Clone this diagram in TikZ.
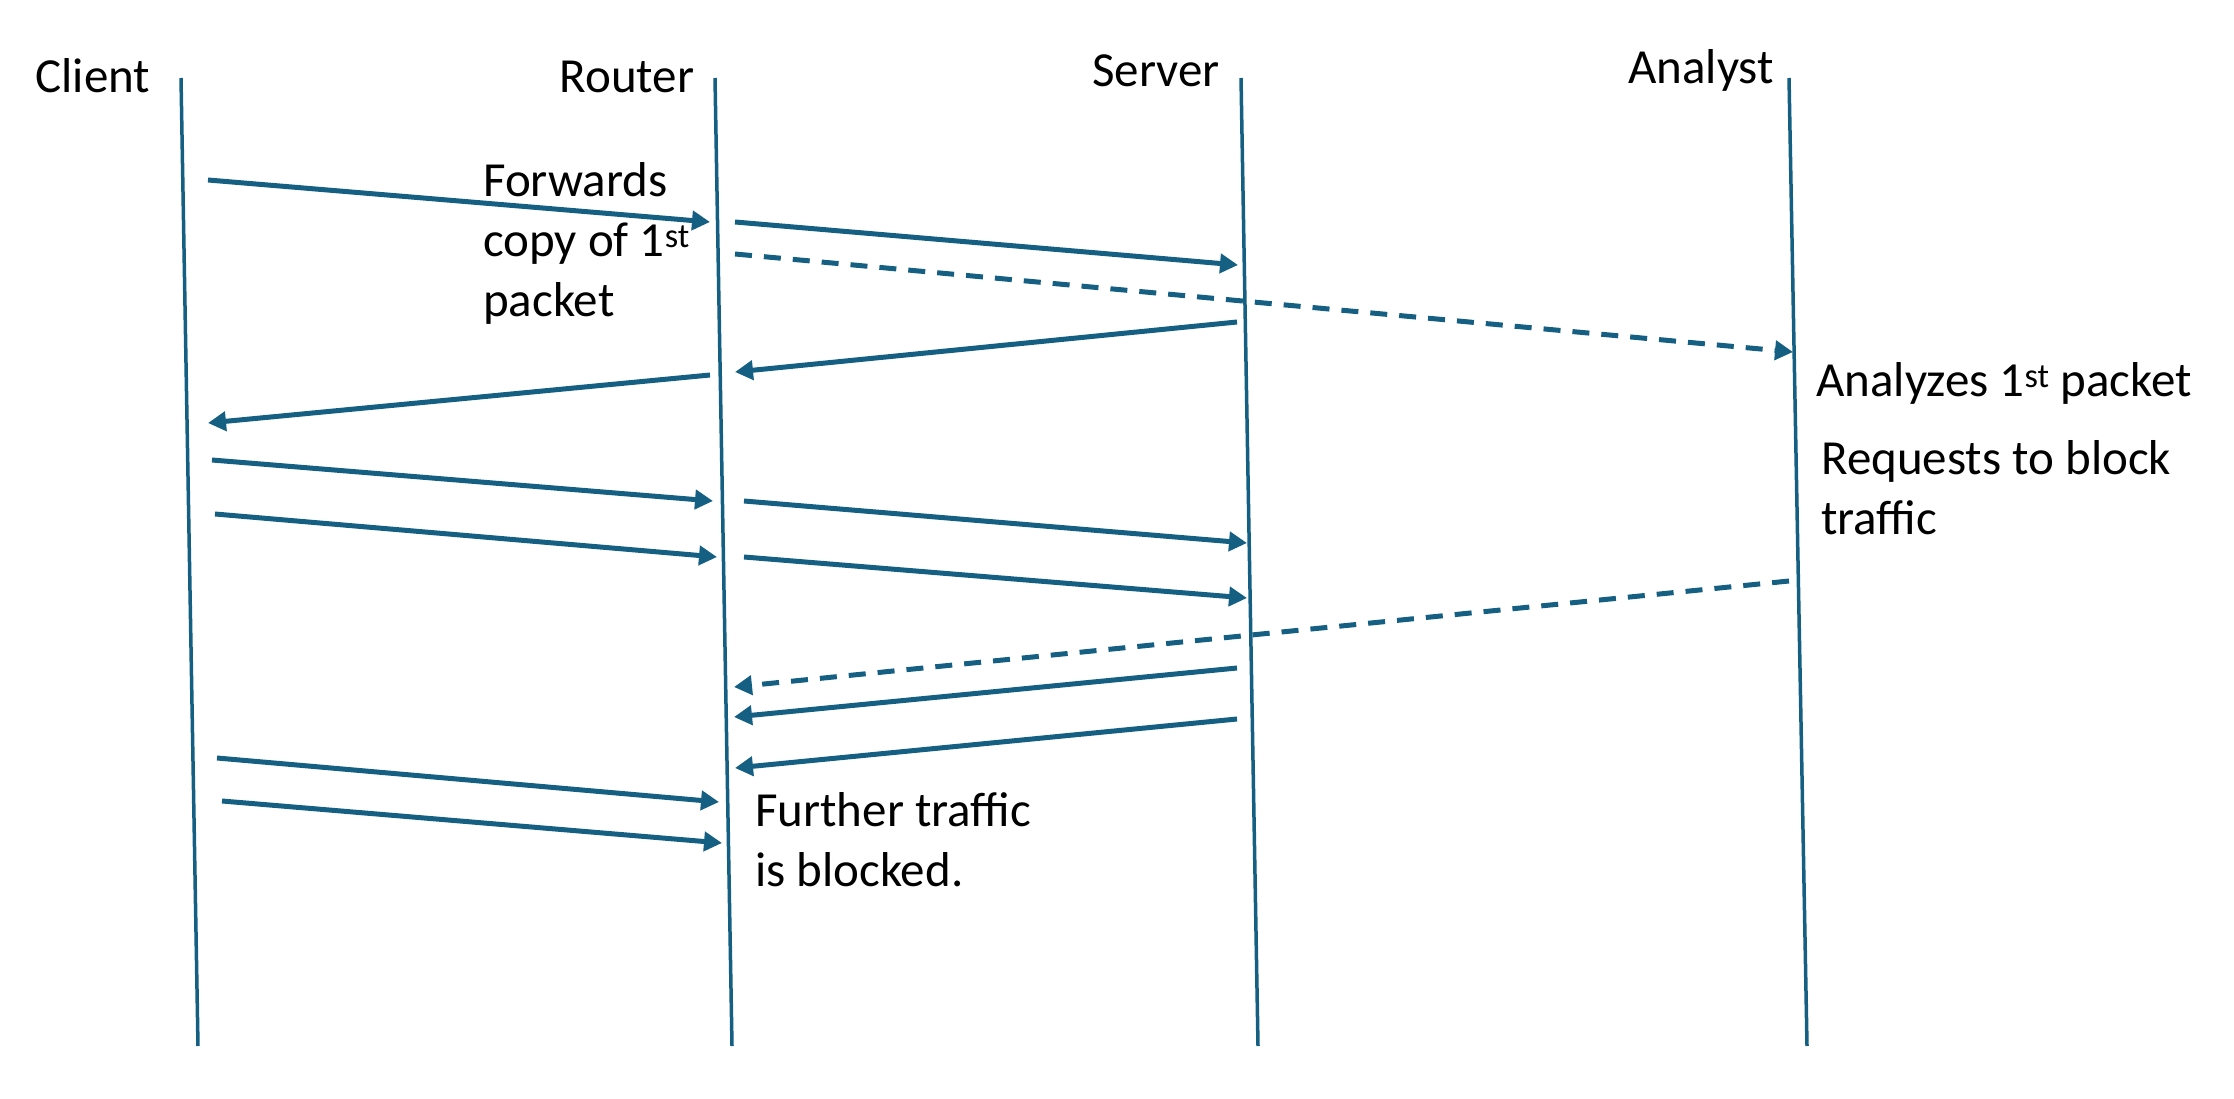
\documentclass[tikz,border=0pt]{standalone}
\usepackage{fontspec}
\setmainfont{Carlito}
\usetikzlibrary{arrows.meta}
\definecolor{seqblue}{HTML}{156082}
\begin{document}
\begin{tikzpicture}[x=1pt,y=-1pt,
  lifeline/.style={draw=seqblue,line width=3.5pt},
  msg/.style={draw=seqblue,line width=5pt,-{Triangle[length=18pt,width=19pt]}},
  dmsg/.style={msg,dash pattern=on 17pt off 12pt},
  lbl/.style={inner sep=0pt,font=\fontsize{49}{60}\selectfont},
  note/.style={lbl,align=left,anchor=north west}]
\useasboundingbox (0,0) rectangle (2234,1099);
% lifelines
\coordinate (c1) at (181,78);  \coordinate (c2) at (198,1046);
\coordinate (r1) at (715,78);  \coordinate (r2) at (732,1046);
\coordinate (s1) at (1241,78); \coordinate (s2) at (1258,1046);
\coordinate (a1) at (1789,78); \coordinate (a2) at (1807,1046);
\draw[lifeline] (c1) -- (c2);
\draw[lifeline] (r1) -- (r2);
\draw[lifeline] (s1) -- (s2);
\draw[lifeline] (a1) -- (a2);
% headers
\node[lbl,anchor=base] (hc) at (93,93) {Client};
\node[lbl,anchor=base] (hr) at (627,93) {Router};
\node[lbl,anchor=base] (hs) at (1156,87) {Server};
\node[lbl,anchor=base] (ha) at (1701,84) {Analyst};
% message end points
\coordinate (m1a) at (208,180);  \coordinate (m1b) at (710,222);
\coordinate (m2a) at (735,222);  \coordinate (m2b) at (1238,265);
\coordinate (m3a) at (735,254);  \coordinate (m3b) at (1793,352);
\coordinate (m4a) at (1237,322); \coordinate (m4b) at (735,372);
\coordinate (m5a) at (710,375);  \coordinate (m5b) at (208,423);
\coordinate (m6a) at (212,460);  \coordinate (m6b) at (713,501);
\coordinate (m7a) at (744,501);  \coordinate (m7b) at (1247,543);
\coordinate (m8a) at (215,514);  \coordinate (m8b) at (717,557);
\coordinate (m9a) at (744,557);  \coordinate (m9b) at (1247,598);
\coordinate (m10a) at (1789,581); \coordinate (m10b) at (734,687);
\coordinate (m11a) at (1237,668); \coordinate (m11b) at (734,717);
\coordinate (m12a) at (1237,719); \coordinate (m12b) at (735,768);
\coordinate (m13a) at (217,758); \coordinate (m13b) at (719,802);
\coordinate (m14a) at (222,801); \coordinate (m14b) at (722,843);
\draw[msg] (m1a) -- (m1b);
\draw[msg] (m2a) -- (m2b);
\draw[dmsg] (m3a) -- (m3b);
\draw[msg] (m4a) -- (m4b);
\draw[msg] (m5a) -- (m5b);
\draw[msg] (m6a) -- (m6b);
\draw[msg] (m7a) -- (m7b);
\draw[msg] (m8a) -- (m8b);
\draw[msg] (m9a) -- (m9b);
\draw[dmsg] (m10a) -- (m10b);
\draw[msg] (m11a) -- (m11b);
\draw[msg] (m12a) -- (m12b);
\draw[msg] (m13a) -- (m13b);
\draw[msg] (m14a) -- (m14b);
% notes
\node[note] (tf) at (483,162) {Forwards\\copy of 1\textsuperscript{st}\\packet};
\node[note] (ta) at (1816,362) {Analyzes 1\textsuperscript{st} packet};
\node[note] (tr) at (1821,440) {Requests to block\\traffic};
\node[note] (tb) at (755,792) {Further traffic\\is blocked.};
\end{tikzpicture}
\end{document}
